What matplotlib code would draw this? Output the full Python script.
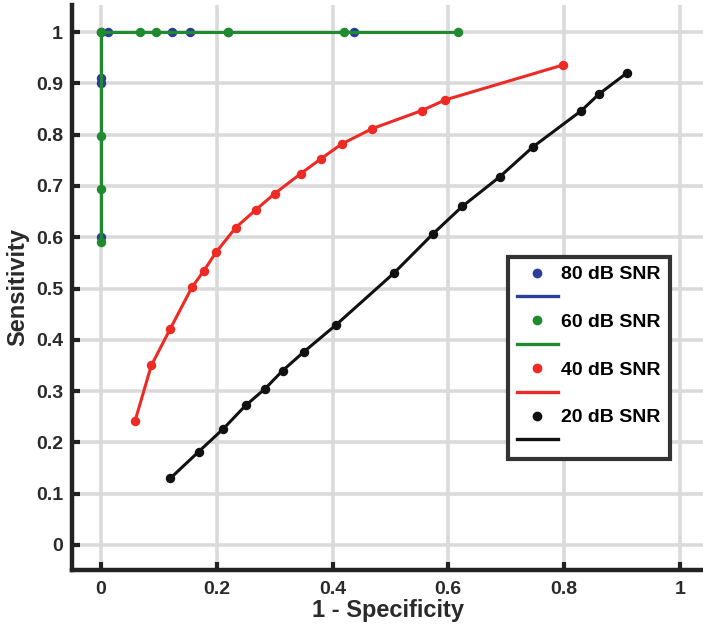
import matplotlib
matplotlib.use("Agg")
import matplotlib.pyplot as plt
from matplotlib.lines import Line2D

# ROC points
fpr_80 = [0.0, 0.0, 0.0, 0.0, 0.012, 0.122, 0.153, 0.22, 0.437]
tpr_80 = [0.60, 0.90, 0.91, 1.0, 1.0, 1.0, 1.0, 1.0, 1.0]

fpr_60 = [0.0, 0.0, 0.0, 0.0, 0.067, 0.095, 0.22, 0.42, 0.616]
tpr_60 = [0.59, 0.695, 0.797, 1.0, 1.0, 1.0, 1.0, 1.0, 1.0]

fpr_40 = [0.059, 0.087, 0.120, 0.157, 0.178, 0.199, 0.233, 0.267, 0.300,
          0.345, 0.380, 0.416, 0.469, 0.554, 0.595, 0.798]
tpr_40 = [0.242, 0.350, 0.422, 0.502, 0.535, 0.571, 0.619, 0.653, 0.685,
          0.724, 0.753, 0.782, 0.812, 0.847, 0.868, 0.936]

fpr_20 = [0.120, 0.169, 0.211, 0.250, 0.283, 0.314, 0.350, 0.406, 0.506,
          0.573, 0.624, 0.689, 0.746, 0.830, 0.860, 0.908]
tpr_20 = [0.130, 0.182, 0.226, 0.272, 0.304, 0.340, 0.376, 0.429, 0.530,
          0.606, 0.660, 0.718, 0.776, 0.847, 0.879, 0.920]

labels = ["80 dB SNR", "60 dB SNR", "40 dB SNR", "20 dB SNR"]
colors = ["#2b3d9b", "#1f8a2e", "#ee2a24", "#111111"]

xticks = [0, 0.2, 0.4, 0.6, 0.8, 1]
xticklabels = ["0", "0.2", "0.4", "0.6", "0.8", "1"]
yticks = [0, 0.1, 0.2, 0.3, 0.4, 0.5, 0.6, 0.7, 0.8, 0.9, 1]
yticklabels = ["0", "0.1", "0.2", "0.3", "0.4", "0.5", "0.6", "0.7", "0.8", "0.9", "1"]

plt.rcParams["font.family"] = ["Liberation Sans", "DejaVu Sans"]
plt.rcParams["font.weight"] = "bold"

fig = plt.figure(figsize=(7.03, 6.33), dpi=100)
# axes box: left spine ~x=72px, bottom spine ~y=570px, top ~y=5px, runs to right edge
ax = fig.add_axes([72 / 703, 1 - 570 / 633, 1 - 72 / 703, 565 / 633])

series = [(fpr_80, tpr_80), (fpr_60, tpr_60), (fpr_40, tpr_40), (fpr_20, tpr_20)]
for (x, y), c in zip(series, colors):
    ax.plot(x, y, color=c, linewidth=2.2, marker="o", markersize=5.8,
            markerfacecolor=c, markeredgecolor=c, zorder=3)

ax.set_xlim(-0.05, 1.04)
ax.set_ylim(-0.049, 1.053)
ax.set_xticks(xticks)
ax.set_xticklabels(xticklabels)
ax.set_yticks(yticks)
ax.set_yticklabels(yticklabels)

ax.grid(True, color="#dadada", linewidth=2.6)
ax.set_axisbelow(True)

for side in ["top", "right"]:
    ax.spines[side].set_visible(False)
for side in ["left", "bottom"]:
    ax.spines[side].set_linewidth(3.2)
    ax.spines[side].set_color("#222222")

ax.tick_params(direction="in", length=5.5, width=3, color="#222222",
               labelsize=14, labelcolor="#2a2a2a")
ax.tick_params(axis="y", pad=6.5)
ax.tick_params(axis="x", pad=8)

ax.set_xlabel("1 - Specificity", fontsize=17, fontweight="bold", color="#2a2a2a", labelpad=1)
ax.set_ylabel("Sensitivity", fontsize=17, fontweight="bold", color="#2a2a2a", labelpad=5)

# legend: marker entry with label, then a line entry without label
handles, hlabels = [], []
for lab, c in zip(labels, colors):
    handles.append(Line2D([], [], linestyle="none", marker="o", markersize=6,
                          markerfacecolor=c, markeredgecolor=c))
    hlabels.append(lab)
    handles.append(Line2D([], [], color=c, linewidth=2.4))
    hlabels.append("")

leg = ax.legend(handles, hlabels, loc="upper left",
                bbox_to_anchor=((508 - 72) / 631, 1 - (257 - 5) / 565),
                frameon=True, fancybox=False, labelspacing=0.32,
                handlelength=2.1, handletextpad=0.2, borderpad=0.45,
                borderaxespad=0,
                prop={"family": "Liberation Sans", "weight": "bold", "size": 14})
leg.get_frame().set_edgecolor("#333333")
leg.get_frame().set_linewidth(3)
leg.get_frame().set_alpha(1)

fig.savefig("out.png", dpi=100)
